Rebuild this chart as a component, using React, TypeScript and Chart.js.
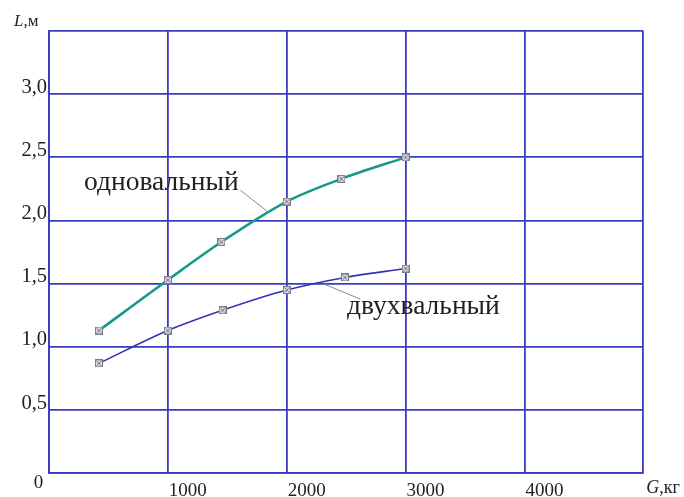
import React, { useEffect, useRef } from "react";
import { Chart, registerables } from "chart.js";

Chart.register(...registerables);

// Data (G, кг ; L, м)
const singleShaftG = [420, 1000, 1450, 2000, 2460, 3000];
const singleShaftL = [1.13, 1.53, 1.83, 2.15, 2.33, 2.5];
const twinShaftG = [420, 1000, 1460, 2000, 2490, 3000];
const twinShaftL = [0.87, 1.13, 1.29, 1.45, 1.55, 1.62];

const xMin = 0;
const xMax = 5000;
const xStep = 1000;
const yMin = 0;
const yMax = 3.5;
const yStep = 0.5;

const singleLabel = "одновальный";
const twinLabel = "двухвальный";
const xTitle = "кг";
const yTitle = "м";
const originLabel = "0";

// annotation anchors in data units
const singleText = { g: 945, l: 2.3 };
const singleLeader = [{ g: 1610, l: 2.24 }, { g: 1840, l: 2.07 }];
const twinText = { g: 3150, l: 1.317 };
const twinLeader = [{ g: 2620, l: 1.378 }, { g: 2320, l: 1.495 }];

const GRID = "#3b3bc2";
const TEAL = "#17998a";
const BLUE = "#3232b4";
const TEXT = "#222";
const SERIF = "'Liberation Serif', 'DejaVu Serif', serif";

function makeMarker(): HTMLCanvasElement {
  const c = document.createElement("canvas");
  c.width = 8;
  c.height = 8;
  const ctx = c.getContext("2d")!;
  ctx.fillStyle = "#d9d9dc";
  ctx.fillRect(0.5, 0.5, 7, 7);
  ctx.strokeStyle = "#7a7a86";
  ctx.lineWidth = 1;
  ctx.strokeRect(0.5, 0.5, 7, 7);
  ctx.beginPath();
  ctx.moveTo(1.5, 1.5);
  ctx.lineTo(6.5, 6.5);
  ctx.moveTo(6.5, 1.5);
  ctx.lineTo(1.5, 6.5);
  ctx.stroke();
  return c;
}

const annotations = {
  id: "annotations",
  afterDatasetsDraw(chart: any) {
    const { ctx, scales } = chart;
    const xs = scales.x;
    const ys = scales.y;
    const px = (g: number) => xs.getPixelForValue(g);
    const py = (l: number) => ys.getPixelForValue(l);
    ctx.save();
    // leaders
    ctx.strokeStyle = "#8a8a8a";
    ctx.lineWidth = 1;
    for (const seg of [singleLeader, twinLeader]) {
      ctx.beginPath();
      ctx.moveTo(px(seg[0].g), py(seg[0].l));
      ctx.lineTo(px(seg[1].g), py(seg[1].l));
      ctx.stroke();
    }
    // curve labels
    ctx.fillStyle = TEXT;
    ctx.font = `27.5px ${SERIF}`;
    ctx.textAlign = "center";
    ctx.textBaseline = "middle";
    ctx.fillText(singleLabel, px(singleText.g), py(singleText.l));
    ctx.fillText(twinLabel, px(twinText.g), py(twinText.l));

    // axis titles
    const area = chart.chartArea;
    ctx.textBaseline = "alphabetic";
    ctx.textAlign = "left";
    ctx.font = `italic 17px ${SERIF}`;
    ctx.fillText("L", area.left - 35, area.top - 5);
    let w = ctx.measureText("L").width;
    ctx.font = `17px ${SERIF}`;
    ctx.fillText("," + yTitle, area.left - 35 + w, area.top - 5);

    ctx.font = `italic 18px ${SERIF}`;
    ctx.fillText("G", area.right + 3, area.bottom + 19.5);
    w = ctx.measureText("G").width;
    ctx.font = `18px ${SERIF}`;
    ctx.fillText("," + xTitle, area.right + 3 + w, area.bottom + 19.5);

    // origin label
    ctx.font = `19px ${SERIF}`;
    ctx.textAlign = "center";
    ctx.fillText(originLabel, area.left - 10.5, area.bottom + 14.5);
    ctx.restore();
  },
};

export default function App() {
  const ref = useRef<HTMLCanvasElement | null>(null);
  useEffect(() => {
    if (!ref.current) return;
    const marker = makeMarker();
    const chart = new Chart(ref.current, {
      type: "line",
      data: {
        datasets: [
          {
            label: singleLabel,
            data: singleShaftG.map((g, i) => ({ x: g, y: singleShaftL[i] })),
            borderColor: TEAL,
            borderWidth: 2.6,
            tension: 0.4,
            cubicInterpolationMode: "monotone",
            pointStyle: marker as any,
            pointRadius: 4,
          },
          {
            label: twinLabel,
            data: twinShaftG.map((g, i) => ({ x: g, y: twinShaftL[i] })),
            borderColor: BLUE,
            borderWidth: 1.6,
            tension: 0.4,
            cubicInterpolationMode: "monotone",
            pointStyle: marker as any,
            pointRadius: 4,
          },
        ],
      },
      options: {
        animation: false,
        responsive: false,
        maintainAspectRatio: false,
        layout: { padding: { top: 31, right: 40.7, left: 0, bottom: 0 } },
        plugins: { legend: { display: false }, tooltip: { enabled: false } },
        scales: {
          x: {
            type: "linear",
            min: xMin,
            max: xMax,
            afterFit: (s: any) => {
              s.height = 23.7;
            },
            grid: { color: GRID, lineWidth: 1.8, drawTicks: false },
            border: { color: GRID, width: 1.8 },
            ticks: {
              stepSize: xStep,
              padding: 6,
              labelOffset: 20,
              maxRotation: 0,
              color: TEXT,
              font: { family: SERIF, size: 19 },
              callback: (v: any) => (v === xMin || v === xMax ? "" : String(v)),
            },
          },
          y: {
            type: "linear",
            min: yMin,
            max: yMax,
            afterFit: (s: any) => {
              s.width = 49;
            },
            grid: { color: GRID, lineWidth: 1.8, drawTicks: false },
            border: { color: GRID, width: 1.8 },
            ticks: {
              stepSize: yStep,
              padding: 2,
              labelOffset: -7,
              color: TEXT,
              font: { family: SERIF, size: 20.5 },
              callback: (v: any) =>
                v === yMin || v === yMax ? "" : Number(v).toFixed(1).replace(".", ","),
            },
          },
        },
      },
      plugins: [annotations],
    });
    return () => chart.destroy();
  }, []);
  return (
    <div style={{ position: "fixed", left: 0, top: 0, width: 684, height: 497, background: "#fff" }}>
      <canvas ref={ref} width={684} height={497} style={{ width: 684, height: 497 }} />
    </div>
  );
}
